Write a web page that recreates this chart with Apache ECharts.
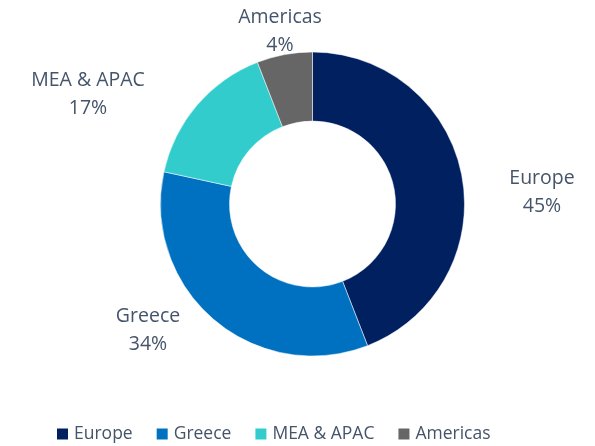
<!DOCTYPE html>
<html>
<head>
<meta charset="utf-8">
<script src="https://cdn.jsdelivr.net/npm/echarts@6/dist/echarts.min.js"></script>
<style>
  html, body { margin: 0; padding: 0; background: #fff; }
  #main { width: 595px; height: 446px; }
</style>
</head>
<body>
<div id="main"></div>
<script>
var regions = ['Europe', 'Greece', 'MEA & APAC', 'Americas'];
var shares = [44.1, 34.3, 15.7, 5.9];
var shareLabels = ['45%', '34%', '17%', '4%'];

var colors = ['#002060', '#0070C0', '#33CCCC', '#666666'];
// where the labels sit (centre of the text block)
var labelSpots = [[542, 192], [148, 330], [88, 94], [280, 31]];

var chart = echarts.init(document.getElementById('main'));

chart.setOption({
  color: colors,
  textStyle: { fontFamily: 'Open Sans, sans-serif' },
  legend: {
    data: regions,
    left: 55,
    top: 425,
    padding: 0,
    icon: 'rect',
    itemWidth: 13,
    itemHeight: 13,
    itemGap: 22,
    textStyle: { fontSize: 17.5, color: '#44546A' }
  },
  series: [{
    type: 'pie',
    center: [312.5, 204],
    radius: [83, 152],
    startAngle: 90,
    clockwise: true,
    avoidLabelOverlap: false,
    itemStyle: { borderColor: '#fff', borderWidth: 0.5 },
    label: {
      show: true,
      position: 'outside',
      fontSize: 19.5,
      lineHeight: 28,
      color: '#44546A',
      align: 'center',
      formatter: function (p) { return p.name + '\n' + shareLabels[p.dataIndex]; }
    },
    labelLine: { show: false },
    labelLayout: function (p) {
      var s = labelSpots[p.dataIndex];
      return { x: s[0], y: s[1], align: 'center', verticalAlign: 'middle' };
    },
    emphasis: { disabled: true },
    data: regions.map(function (r, i) { return { name: r, value: shares[i] }; })
  }]
});
</script>
</body>
</html>
